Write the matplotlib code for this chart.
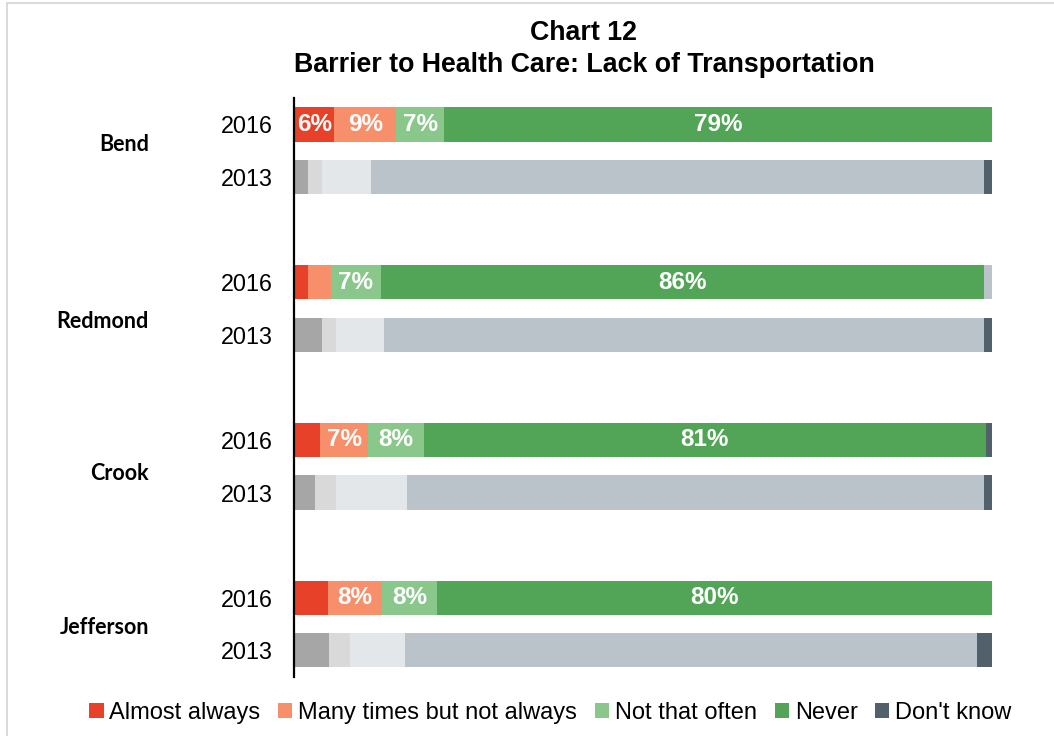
import matplotlib
matplotlib.use("Agg")
import matplotlib.pyplot as plt
import matplotlib.transforms as mtransforms
from matplotlib.patches import Patch, Rectangle

cities = ["Bend", "Redmond", "Crook", "Jefferson"]
years = ["2016", "2013"]
categories = ["Almost always", "Many times but not always", "Not that often", "Never", "Don't know"]

# 2016 values (%) per city: Almost always, Many times, Not that often, Never, Don't know
vals_2016 = {
    "Bend":      [5.7, 8.9, 6.9, 78.6, 0.0],
    "Redmond":   [2.0, 3.2, 7.2, 86.4, 1.2],
    "Crook":     [3.7, 6.9, 7.9, 80.6, 0.9],
    "Jefferson": [4.8, 7.8, 7.8, 79.6, 0.0],
}
# 2013 values (%) per city
vals_2013 = {
    "Bend":      [1.9, 2.0, 7.0, 88.0, 1.1],
    "Redmond":   [3.9, 2.0, 7.0, 86.0, 1.1],
    "Crook":     [2.9, 3.0, 10.2, 82.8, 1.1],
    "Jefferson": [4.9, 3.0, 8.0, 82.0, 2.1],
}

colors_2016 = ["#E8412A", "#F78F6B", "#8AC78A", "#52A457", "#51606B"]
colors_2013 = ["#A6A6A6", "#D9D9D9", "#E3E7EA", "#B9C3C9", "#51606B"]
dk_2016_colors = {"Bend": "#51606B", "Redmond": "#B9C3C9", "Crook": "#51606B", "Jefferson": "#51606B"}

plt.rcParams['font.family'] = ['Liberation Sans', 'DejaVu Sans']

fig = plt.figure(figsize=(10.54, 7.36), dpi=100)
ax = fig.add_axes([0.2794, 0.0807, 0.9412 - 0.2794, 0.8666 - 0.0807])

ypos = []
ylabels = []
bar_h = 0.65
for gi, city in enumerate(cities):
    for yi, yr in enumerate(years):
        y = gi * 3 + yi
        ypos.append(y)
        ylabels.append(yr)
        vals = vals_2016[city] if yr == "2016" else vals_2013[city]
        cols = list(colors_2016) if yr == "2016" else list(colors_2013)
        if yr == "2016":
            cols[4] = dk_2016_colors[city]
        left = 0.0
        for v, c in zip(vals, cols):
            if v > 0:
                ax.barh(y, v, left=left, height=bar_h, color=c, edgecolor='none')
                if yr == "2016" and v >= 5.5:
                    ax.text(left + v / 2, y, f"{round(v):.0f}%", ha='center', va='center',
                            color='white', fontsize=17.5, fontweight='bold')
            left += v

ax.set_xlim(0, 100)
ax.set_ylim(10.5, -0.5)
ax.set_yticks(ypos)
ax.set_yticklabels(ylabels, fontsize=16.8)
ax.tick_params(axis='y', length=0, pad=16)
ax.set_xticks([])
for s in ['top', 'right', 'bottom']:
    ax.spines[s].set_visible(False)
ax.spines['left'].set_linewidth(1.6)
ax.spines['left'].set_color('black')

# city group labels
city_y = [0.39, 3.74, 6.63, 9.56]
trans = mtransforms.blended_transform_factory(fig.transFigure, ax.transData)
for city, cy in zip(cities, city_y):
    ax.text(149 / 1054, cy, city, transform=trans,
            ha='right', va='center', fontsize=15.5, fontweight='bold', family='Lato')

fig.text(584 / 1054, 1 - 33 / 736, "Chart 12", ha='center', va='center', fontsize=19.3, fontweight='bold')
fig.text(584 / 1054, 1 - 65 / 736, "Barrier to Health Care: Lack of Transportation",
         ha='center', va='center', fontsize=19.3, fontweight='bold')

handles = [Patch(facecolor=c, edgecolor='none') for c in colors_2016]
fig.legend(handles, categories, loc='center', bbox_to_anchor=(550.5 / 1054, 1 - 713 / 736),
           ncol=5, frameon=False, fontsize=17, handlelength=0.6, handleheight=0.6,
           handletextpad=0.25, columnspacing=0.75, borderaxespad=0)

# light frame around the figure
fig.patches.append(Rectangle((7 / 1054, -0.1), 1.2, 1 - 3 / 736 + 0.1, transform=fig.transFigure,
                             fill=False, edgecolor='#D3D3D3', linewidth=1.2, zorder=-1))

fig.savefig("out.png", dpi=100)
